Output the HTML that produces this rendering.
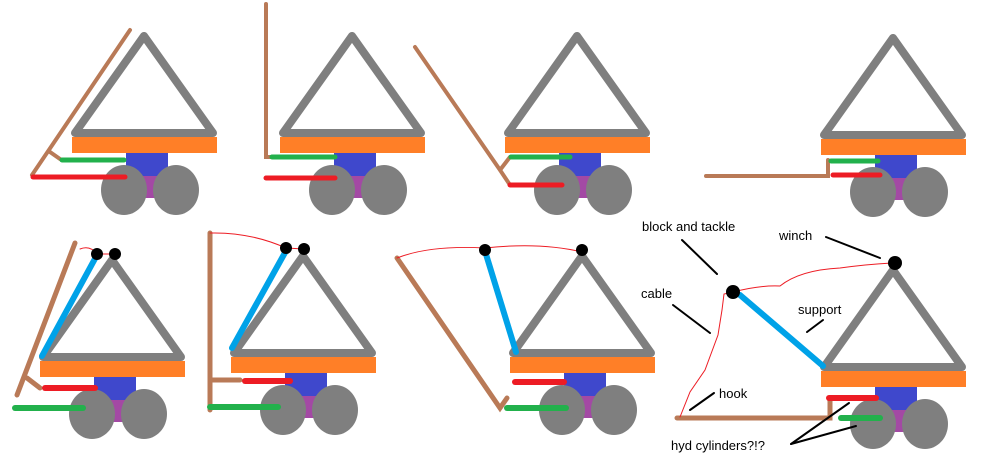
<!DOCTYPE html>
<html><head><style>
html,body{margin:0;padding:0;background:#fff;}
svg{display:block;}
text{font-family:"Liberation Sans",sans-serif;font-size:13px;fill:#000;}
</style></head><body>
<svg width="985" height="457" viewBox="0 0 985 457" xmlns="http://www.w3.org/2000/svg">
<defs>
<g id="u">
<polygon points="0,0 -69,97 69,97" fill="none" stroke="#7f7f7f" stroke-width="8" stroke-linejoin="round"/>
<rect x="-72" y="101" width="145" height="16" fill="#ff7f27"/>
<rect x="-18" y="117" width="42" height="23" fill="#3f48cc"/>
<rect x="-4" y="140" width="20" height="22" fill="#a349a4"/>
<ellipse cx="-20" cy="154" rx="23" ry="25" fill="#7f7f7f"/>
<ellipse cx="32" cy="154" rx="23" ry="25" fill="#7f7f7f"/>
</g>
</defs>
<g stroke-linecap="round" fill="none">
<use href="#u" x="144" y="36"/>
<use href="#u" x="352" y="36"/>
<use href="#u" x="577" y="36"/>
<use href="#u" x="893" y="38"/>
<use href="#u" x="112" y="260"/>
<use href="#u" x="303" y="256"/>
<use href="#u" x="582" y="256"/>
<use href="#u" x="893" y="270"/>

<!-- unit1 -->
<path d="M130,30 L32,175 M50,152 L60,159" stroke="#b97a57" stroke-width="4"/>
<path d="M62,160 L124,160" stroke="#22b14c" stroke-width="5"/>
<path d="M33,177 L125,177" stroke="#ed1c24" stroke-width="5"/>
<!-- unit2 -->
<path d="M266,4 L266,157 L275,157" stroke="#b97a57" stroke-width="4"/>
<path d="M272,157 L335,157" stroke="#22b14c" stroke-width="5"/>
<path d="M266,178 L335,178" stroke="#ed1c24" stroke-width="5"/>
<!-- unit3 -->
<path d="M415,47 L500,170 L510,185 M500,170 L510,157" stroke="#b97a57" stroke-width="4"/>
<path d="M511,157 L570,157" stroke="#22b14c" stroke-width="5"/>
<path d="M510,185 L562,185" stroke="#ed1c24" stroke-width="5"/>
<!-- unit4 -->
<path d="M706,176 L828,176 L828,160" stroke="#b97a57" stroke-width="4"/>
<path d="M831,161 L878,161" stroke="#22b14c" stroke-width="5"/>
<path d="M833,175 L880,175" stroke="#ed1c24" stroke-width="5"/>
<!-- unit5 -->
<path d="M75,243 L17,395 M27,378 L40,388" stroke="#b97a57" stroke-width="5"/>
<path d="M42,356 L97,255" stroke="#00a2e8" stroke-width="6"/>
<path d="M45,388 L95,388" stroke="#ed1c24" stroke-width="6"/>
<path d="M15,408 L83,408" stroke="#22b14c" stroke-width="6"/>
<path d="M80,249 Q90,245 97,254 L115,254" stroke="#ed1c24" stroke-width="1"/>
<!-- unit6 -->
<path d="M210,233 L210,410 M210,380 L240,380" stroke="#b97a57" stroke-width="5"/>
<path d="M245,381 L290,381" stroke="#ed1c24" stroke-width="6"/>
<path d="M210,407 L278,407" stroke="#22b14c" stroke-width="6"/>
<path d="M232,348 L287,249" stroke="#00a2e8" stroke-width="6"/>
<path d="M210,233 Q250,232 286,248 L304,249" stroke="#ed1c24" stroke-width="1"/>
<!-- unit7 -->
<path d="M397,258 L500,408 L507,398" stroke="#b97a57" stroke-width="5"/>
<path d="M507,408 L566,408" stroke="#22b14c" stroke-width="6"/>
<path d="M515,382 L564,382" stroke="#ed1c24" stroke-width="6"/>
<path d="M485,251 L516,352" stroke="#00a2e8" stroke-width="6"/>
<path d="M397,258 Q430,245 485,248 Q540,242 582,252" stroke="#ed1c24" stroke-width="1"/>
<!-- unit8 -->
<path d="M677,418 L830,418 L830,398" stroke="#b97a57" stroke-width="5"/>
<path d="M829,398 L876,398" stroke="#ed1c24" stroke-width="6"/>
<path d="M841,418 L880,418" stroke="#22b14c" stroke-width="6"/>
<path d="M740,295 L823,366" stroke="#00a2e8" stroke-width="6"/>
<path d="M733,292 Q760,285 780,286 Q800,270 840,268 Q870,264 893,263" stroke="#ed1c24" stroke-width="1"/>
<path d="M733,292 L724,294 L722,310 L718,335 L705,370 L690,392 L680,417" stroke="#ed1c24" stroke-width="1"/>
<!-- pointers -->
<g stroke="#000" stroke-width="2">
<path d="M682,240 L717,274"/>
<path d="M826,237 L880,258"/>
<path d="M673,305 L710,333"/>
<path d="M807,332 L823,320"/>
<path d="M690,410 L714,393"/>
<path d="M791,444 L849,403"/>
<path d="M791,444 L856,426"/>
</g>
</g>
<g fill="#000">
<circle cx="97" cy="254" r="6"/><circle cx="115" cy="254" r="6"/>
<circle cx="286" cy="248" r="6"/><circle cx="304" cy="249" r="6"/>
<circle cx="485" cy="250" r="6"/><circle cx="582" cy="250" r="6"/>
<circle cx="733" cy="292" r="7"/><circle cx="895" cy="263" r="7"/>
</g>
<text x="642" y="231">block and tackle</text>
<text x="779" y="240">winch</text>
<text x="641" y="298">cable</text>
<text x="798" y="314">support</text>
<text x="719" y="398">hook</text>
<text x="671" y="450">hyd cylinders?!?</text>
</svg>
</body></html>
